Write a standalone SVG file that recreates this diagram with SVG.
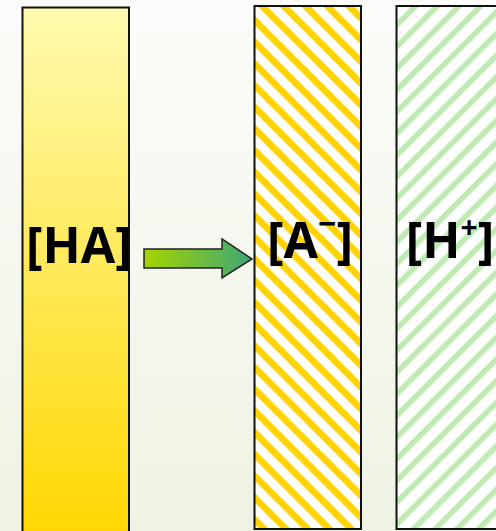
<svg xmlns="http://www.w3.org/2000/svg" width="496" height="531" viewBox="0 0 496 531">
<defs>
<linearGradient id="bg" x1="0" y1="0" x2="0" y2="1">
<stop offset="0" stop-color="#fbfcf9"/>
<stop offset="1" stop-color="#eff3e4"/>
</linearGradient>
<linearGradient id="ha" x1="0" y1="0" x2="0" y2="1">
<stop offset="0" stop-color="#fffbb0"/>
<stop offset="1" stop-color="#ffd700"/>
</linearGradient>
<linearGradient id="arr" x1="0" y1="0" x2="1" y2="0">
<stop offset="0" stop-color="#a6d400"/>
<stop offset="1" stop-color="#3ea777"/>
</linearGradient>
<pattern id="hy" patternUnits="userSpaceOnUse" x="256" y="0" width="21.7" height="21.7">
<rect width="21.7" height="21.7" fill="#fff"/>
<path d="M-3,-3 L24.7,24.7 M-3,18.7 L3,24.7 M18.7,-3 L24.7,3" stroke="#ffd200" stroke-width="6.8" fill="none"/>
</pattern>
<pattern id="hg" patternUnits="userSpaceOnUse" x="400" y="0" width="21.7" height="21.7">
<rect width="21.7" height="21.7" fill="#fff"/>
<path d="M-3,24.7 L24.7,-3 M-3,3 L3,-3 M18.7,24.7 L24.7,18.7" stroke="#bfeab2" stroke-width="5.6" fill="none"/>
</pattern>
</defs>
<style>
.box{stroke:#111;stroke-width:2}
.lbl{font-family:"Open Sans","DejaVu Sans",sans-serif;font-weight:bold;font-size:50px;fill:#000;text-anchor:middle}
</style>
<rect width="496" height="531" fill="url(#bg)"/>
<g id="node-ha">
<rect class="box" x="22.5" y="7.5" width="106.5" height="530" fill="url(#ha)"/>
<text class="lbl" x="79" y="263">[HA]</text>
</g>
<g id="node-a">
<rect class="box" x="254.5" y="6" width="106.5" height="523" fill="url(#hy)"/>
<text class="lbl" x="310" y="258">[A<tspan font-size="32" dy="-23">−</tspan><tspan dy="23">]</tspan></text>
</g>
<g id="node-h">
<rect class="box" x="396.5" y="6" width="106.5" height="523" fill="url(#hg)"/>
<text class="lbl" x="450" y="258">[H<tspan font-size="30" dy="-20">+</tspan><tspan dy="20">]</tspan></text>
</g>
<g id="connectors">
<path d="M144,249 L222,249 L222,239 L252,259 L222,278 L222,268 L144,268 Z" fill="url(#arr)" stroke="#222" stroke-width="1.5" stroke-linejoin="miter"/>
</g>
</svg>
